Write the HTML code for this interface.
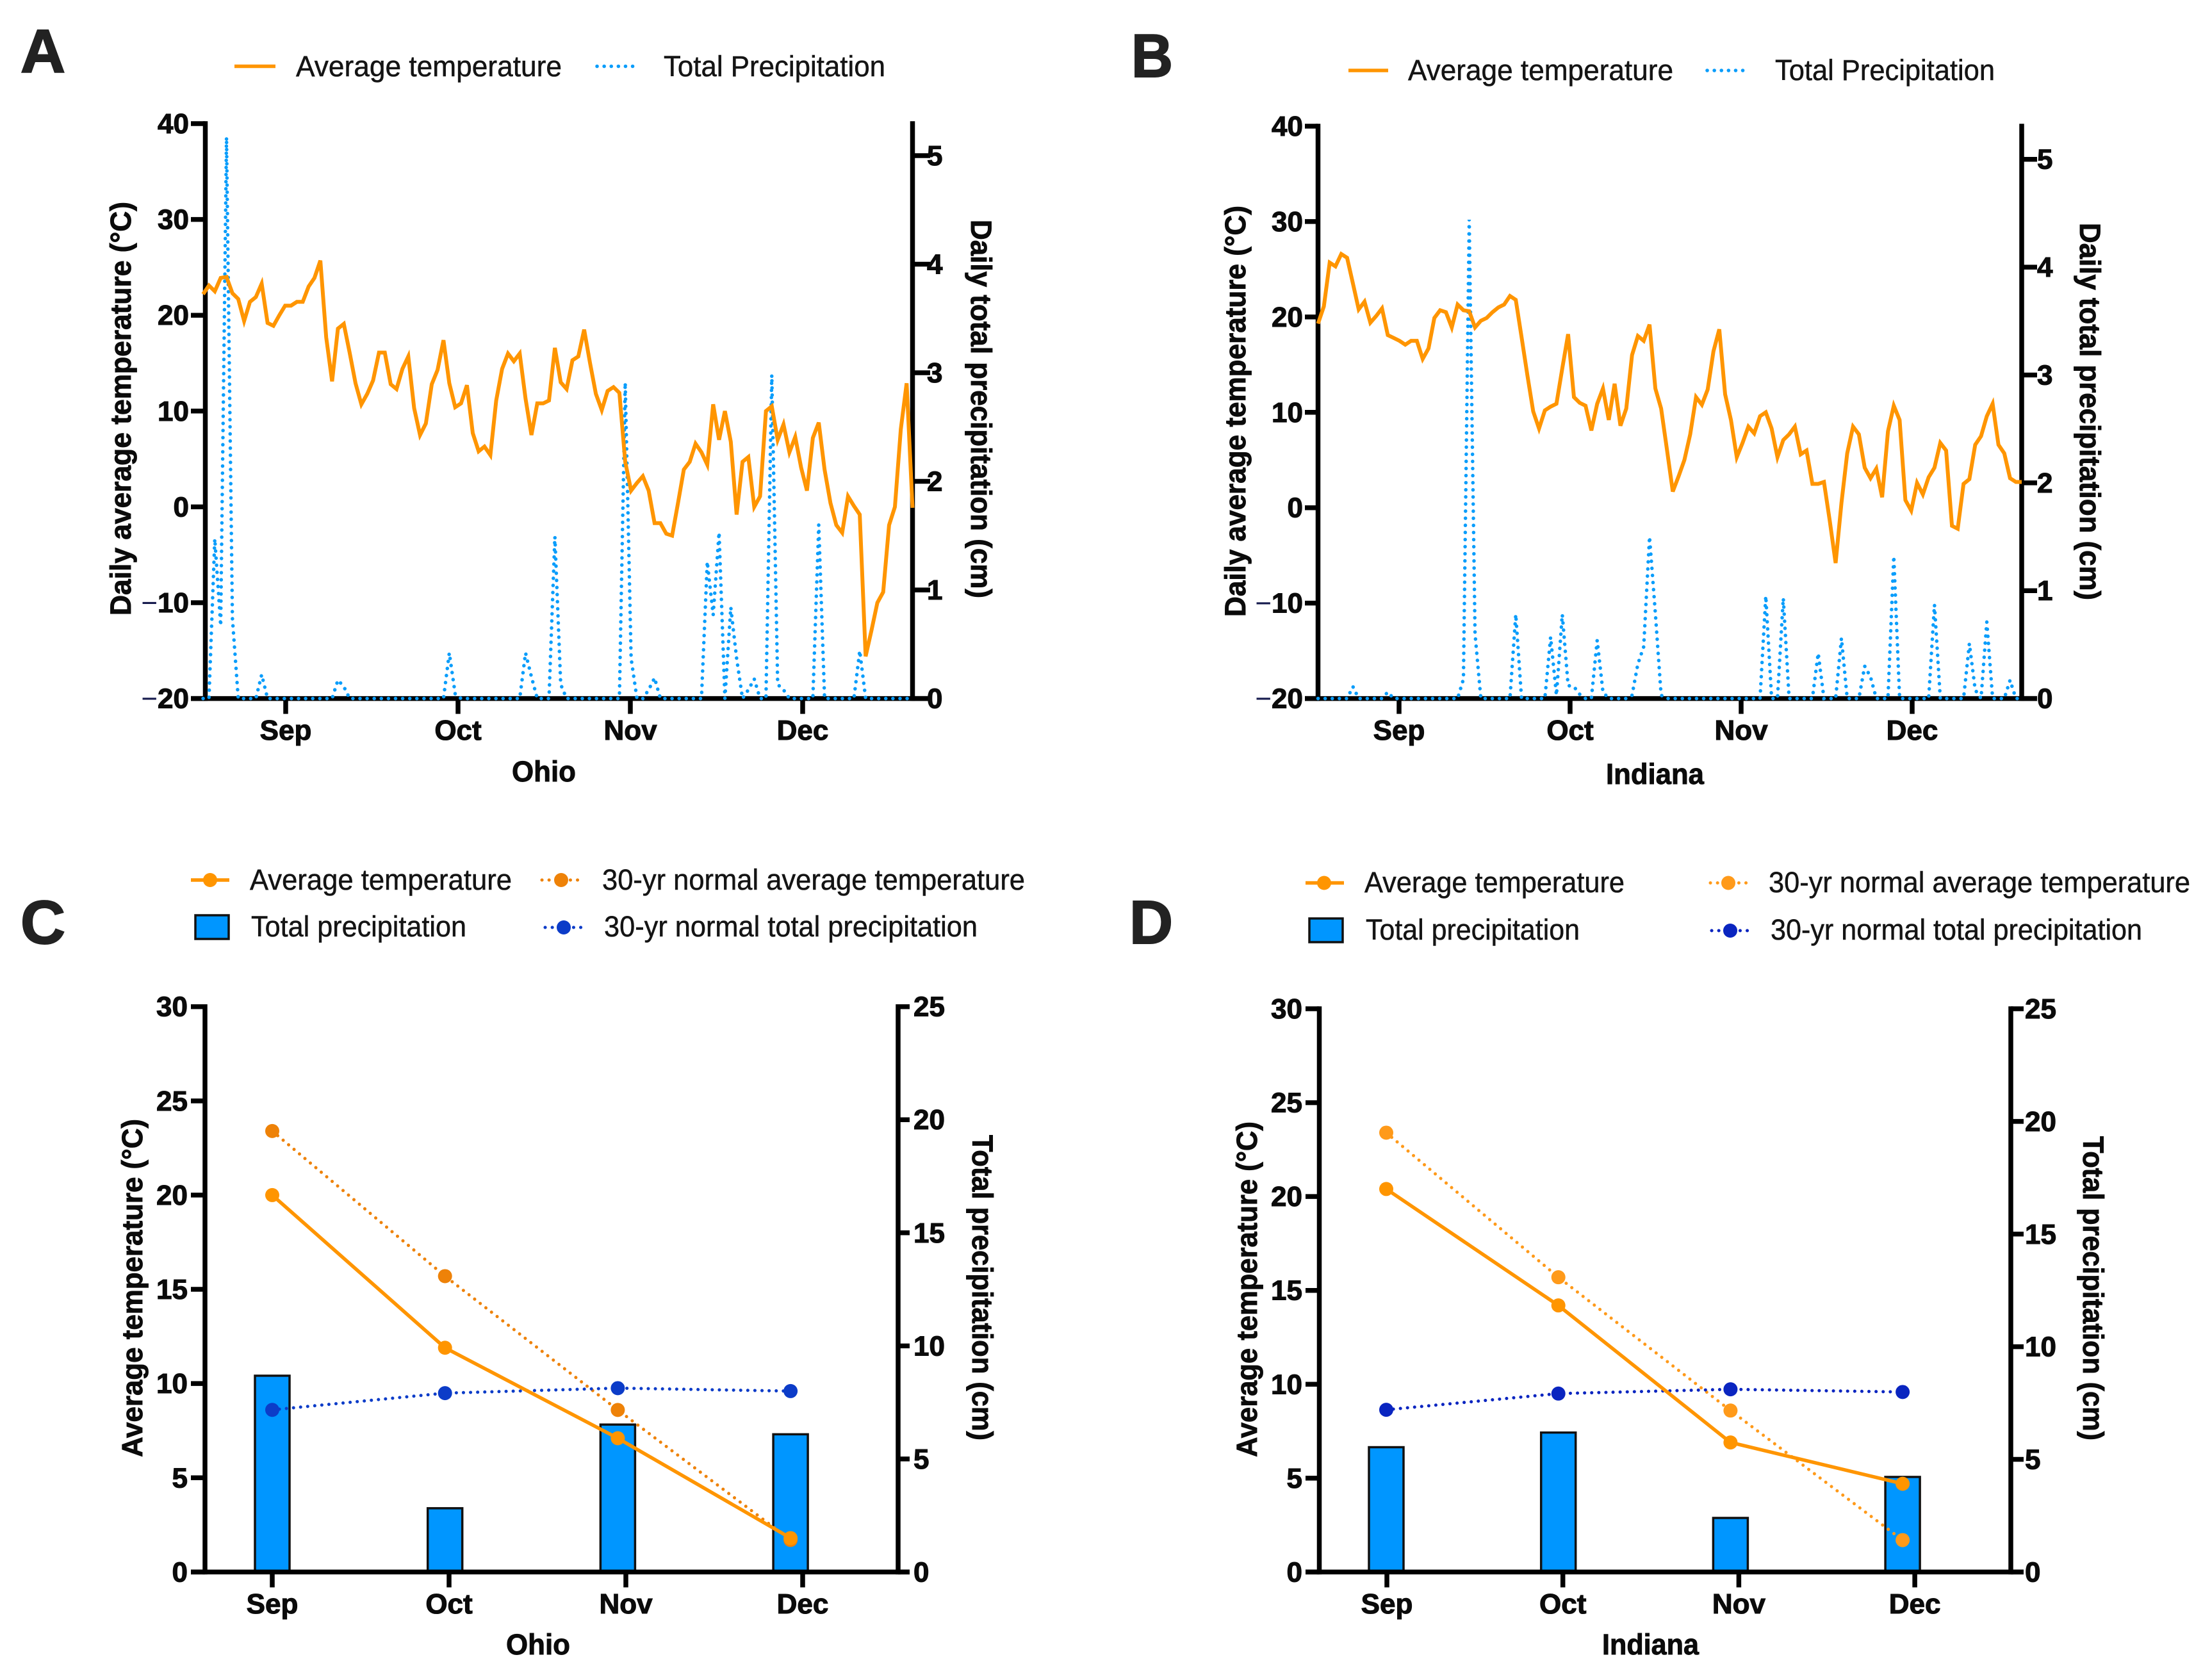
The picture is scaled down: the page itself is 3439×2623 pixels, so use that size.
<!DOCTYPE html>
<html lang="en">
<head>
<meta charset="utf-8">
<title>Daily and monthly temperature and precipitation: Ohio and Indiana</title>
<style>
html,body{margin:0;padding:0;background:#fff;}
svg{display:block;}
text{font-family:"Liberation Sans",Arial,sans-serif;fill:#0b0b0b;}
.letter{font-weight:700;font-size:96px;fill:#222;stroke:#222;stroke-width:2;}
.leg{font-size:45px;fill:#141414;stroke:#141414;stroke-width:0.5;}
.t{font-weight:700;font-size:45px;stroke:#0b0b0b;stroke-width:0.9;}
.tick{font-weight:700;font-size:44px;stroke:#0b0b0b;stroke-width:1.1;}
.minus{font-weight:400;fill:#151a4d;stroke:none;}
</style>
</head>
<body>
<svg id="figure" xmlns="http://www.w3.org/2000/svg" width="3439" height="2623" viewBox="0 0 3439 2623">
<rect x="0" y="0" width="3439" height="2623" fill="#fff"/>

<g id="panelA"></g>
<g id="panelB"></g>
<g id="panelC"></g>
<g id="panelD"></g>

<!-- Panel letters -->
<text class="letter" x="32" y="113" textLength="70" lengthAdjust="spacingAndGlyphs">A</text>
<text class="letter" x="1766" y="120" textLength="65" lengthAdjust="spacingAndGlyphs">B</text>
<text class="letter" x="32" y="1473" textLength="70" lengthAdjust="spacingAndGlyphs">C</text>
<text class="letter" x="1763" y="1473" textLength="68" lengthAdjust="spacingAndGlyphs">D</text>

<!-- Legend A -->
<g>
  <line x1="366" y1="103.5" x2="430" y2="103.5" stroke="#ff9500" stroke-width="5.5"/>
  <text class="leg" x="462" y="119" textLength="415" lengthAdjust="spacingAndGlyphs">Average temperature</text>
  <line x1="932" y1="103.5" x2="990" y2="103.5" stroke="#0a9dfb" stroke-width="5.5" stroke-linecap="round" stroke-dasharray="0.1 11"/>
  <text class="leg" x="1036" y="119" textLength="346" lengthAdjust="spacingAndGlyphs">Total Precipitation</text>
</g>

<!-- Legend B -->
<g>
  <line x1="2105" y1="110" x2="2167" y2="110" stroke="#ff9500" stroke-width="5.5"/>
  <text class="leg" x="2198" y="125" textLength="414" lengthAdjust="spacingAndGlyphs">Average temperature</text>
  <line x1="2665" y1="110" x2="2725" y2="110" stroke="#0a9dfb" stroke-width="5.5" stroke-linecap="round" stroke-dasharray="0.1 11"/>
  <text class="leg" x="2771" y="125" textLength="343" lengthAdjust="spacingAndGlyphs">Total Precipitation</text>
</g>

<!-- Legend C -->
<g>
  <line x1="298" y1="1374" x2="358" y2="1374" stroke="#ff9500" stroke-width="5.5"/>
  <circle cx="328" cy="1374" r="11" fill="#ff9500"/>
  <text class="leg" x="390" y="1389" textLength="409" lengthAdjust="spacingAndGlyphs">Average temperature</text>
  <line x1="846" y1="1374" x2="905" y2="1374" stroke="#ee8208" stroke-width="5" stroke-linecap="round" stroke-dasharray="0.1 11"/>
  <circle cx="876" cy="1374" r="11" fill="#ee8208"/>
  <text class="leg" x="940" y="1389" textLength="660" lengthAdjust="spacingAndGlyphs">30-yr normal average temperature</text>
  <rect x="305" y="1429" width="52" height="37" fill="#0096ff" stroke="#111" stroke-width="3.5"/>
  <text class="leg" x="392" y="1462" textLength="336" lengthAdjust="spacingAndGlyphs">Total precipitation</text>
  <line x1="851" y1="1448" x2="908" y2="1448" stroke="#0c3cc8" stroke-width="5" stroke-linecap="round" stroke-dasharray="0.1 11"/>
  <circle cx="880" cy="1448" r="11" fill="#0c3cc8"/>
  <text class="leg" x="943" y="1462" textLength="583" lengthAdjust="spacingAndGlyphs">30-yr normal total precipitation</text>
</g>

<!-- Legend D -->
<g>
  <line x1="2038" y1="1378.5" x2="2098" y2="1378.5" stroke="#ff9500" stroke-width="5.5"/>
  <circle cx="2067" cy="1378.5" r="11" fill="#ff9500"/>
  <text class="leg" x="2130" y="1393" textLength="406" lengthAdjust="spacingAndGlyphs">Average temperature</text>
  <line x1="2670" y1="1378.5" x2="2728" y2="1378.5" stroke="#ff9a1a" stroke-width="5" stroke-linecap="round" stroke-dasharray="0.1 11"/>
  <circle cx="2698" cy="1378.5" r="11" fill="#ff9a1a"/>
  <text class="leg" x="2761" y="1393" textLength="658" lengthAdjust="spacingAndGlyphs">30-yr normal average temperature</text>
  <rect x="2044" y="1434" width="52" height="37" fill="#0096ff" stroke="#111" stroke-width="3.5"/>
  <text class="leg" x="2132" y="1467" textLength="334" lengthAdjust="spacingAndGlyphs">Total precipitation</text>
  <line x1="2672" y1="1453" x2="2731" y2="1453" stroke="#0a25c0" stroke-width="5" stroke-linecap="round" stroke-dasharray="0.1 11"/>
  <circle cx="2701" cy="1453" r="11" fill="#0a25c0"/>
  <text class="leg" x="2764" y="1467" textLength="580" lengthAdjust="spacingAndGlyphs">30-yr normal total precipitation</text>
</g>

<!-- Axis titles -->
<text class="t" transform="translate(204,961) rotate(-90)" textLength="646" lengthAdjust="spacingAndGlyphs">Daily average temperature (°C)</text>
<text class="t" transform="translate(1516,343) rotate(90)" textLength="591" lengthAdjust="spacingAndGlyphs">Daily total precipitation (cm)</text>
<text class="t" x="799" y="1220" textLength="100" lengthAdjust="spacingAndGlyphs">Ohio</text>

<text class="t" transform="translate(1944,963) rotate(-90)" textLength="642" lengthAdjust="spacingAndGlyphs">Daily average temperature (°C)</text>
<text class="t" transform="translate(3247,348) rotate(90)" textLength="589" lengthAdjust="spacingAndGlyphs">Daily total precipitation (cm)</text>
<text class="t" x="2507" y="1224" textLength="153" lengthAdjust="spacingAndGlyphs">Indiana</text>

<text class="t" transform="translate(222,2275) rotate(-90)" textLength="528" lengthAdjust="spacingAndGlyphs">Average temperature (°C)</text>
<text class="t" transform="translate(1518,1772) rotate(90)" textLength="477" lengthAdjust="spacingAndGlyphs">Total precipitation (cm)</text>
<text class="t" x="790" y="2583" textLength="100" lengthAdjust="spacingAndGlyphs">Ohio</text>

<text class="t" transform="translate(1962,2275) rotate(-90)" textLength="524" lengthAdjust="spacingAndGlyphs">Average temperature (°C)</text>
<text class="t" transform="translate(3252,1774) rotate(90)" textLength="475" lengthAdjust="spacingAndGlyphs">Total precipitation (cm)</text>
<text class="t" x="2501" y="2583" textLength="151" lengthAdjust="spacingAndGlyphs">Indiana</text>
</svg>

<script>
const monthLabels = ["Sep", "Oct", "Nov", "Dec"];
const dailyTempTicks = [-20, -10, 0, 10, 20, 30, 40];
const dailyPrecipTicks = [0, 1, 2, 3, 4, 5];
const monthlyTempTicks = [0, 5, 10, 15, 20, 25, 30];
const monthlyPrecipTicks = [0, 5, 10, 15, 20, 25];

const ohioDailyTemp = [
22.2,23.1,22.5,23.9,24.0,22.3,21.7,19.4,21.4,21.9,
23.3,19.2,18.9,20,21.0,21,21.4,21.4,23,23.9,
25.7,17.7,13.1,18.6,19.1,16.1,12.9,10.7,11.8,13.2,
16.1,16.1,12.8,12.3,14.4,15.7,10.3,7.5,8.7,12.8,
14.3,17.4,12.9,10.4,10.8,12.7,7.7,5.8,6.3,5.4,11.1,
14.4,16.0,15.2,16.0,11.3,7.5,10.8,10.8,11.1,16.6,
13.0,12.3,15.3,15.7,18.5,15.0,11.8,10.1,12.1,12.5,
11.9,4.7,1.7,2.5,3.2,1.7,-1.7,-1.7,-2.8,-3.0,
0.4,3.9,4.7,6.6,5.7,4.4,10.7,7.0,10.0,6.8,
-0.8,4.7,5.2,0.0,1.1,10.0,10.5,7.0,8.6,5.7,
7.3,4.1,1.7,7.2,8.8,3.9,0.4,-1.9,-2.7,1.1,
0.1,-0.8,-15.6,-12.9,-10,-8.9,-1.9,0,8.1,12.9,
-0.1];

const ohioDailyPrecip = [
0,0,1.47,0.67,5.17,0.74,0,0,0,0,
0.22,0,0,0,0,0,0,0,0,0,
0,0,0,0.17,0.11,0,0,0,0,0,
0,0,0,0,0,0,0,0,0,0,
0,0,0.42,0.04,0,0,0,0,0,0,
0,0,0,0,0,0.42,0.2,0,0,0,
1.49,0.13,0,0,0,0,0,0,0,0,
0,0,2.91,0.37,0,0,0.08,0.19,0,0,
0,0,0,0,0,0,1.26,0.77,1.53,0,
0.84,0.37,0,0.08,0.18,0,0,2.98,0.13,0.08,
0,0,0,0,0,1.6,0,0,0,0,
0,0,0.44,0,0,0,0,0,0,0,
0,0];

const indianaDailyTemp = [
19.3,21.1,25.7,25.3,26.6,26.2,23.5,20.8,21.6,19.4,
20.1,20.9,18.1,17.8,17.5,17.1,17.5,17.5,15.6,16.7,
19.9,20.7,20.5,18.9,21.3,20.7,20.6,18.9,19.6,19.9,
20.5,21,21.3,22.2,21.8,17.9,13.9,10.1,8.3,10.2,
10.6,10.9,14.6,18.2,11.6,11.0,10.7,8.1,10.9,12.5,
9.2,13,8.6,10.4,
16.0,18.0,17.5,19.2,12.5,10.4,6.1,1.7,3.3,5.0,
7.7,11.6,10.8,12.4,16.4,18.7,11.9,9.2,5.3,6.8,
8.5,7.8,9.6,10.0,8.3,5.3,7.1,7.7,8.5,5.6,
6.0,2.5,2.5,2.7,-1.4,-5.8,0.5,5.7,8.5,7.7,
4.2,3.1,4.1,1.1,8.0,10.7,9.2,0.8,-0.3,2.6,
1.4,3.2,4.2,6.8,6.0,-1.9,-2.2,2.5,3.0,6.6,
7.5,9.6,10.9,6.6,5.7,3.1,2.7,2.7];

const indianaDailyPrecip = [
0,0,0,0,0,0,0.11,0,0,0,
0,0,0.06,0,0,0,0,0,0,0,
0,0,0,0,0,0.18,4.44,0.6,0,0,
0,0,0,0,0.78,0,0,0,0,0,
0.57,0.03,0.78,0.12,0.11,0.04,0,0,0.54,0.06,
0,0,0,0,0.03,0.32,0.48,1.5,0.79,0.03,
0,0,0,0,0,0,0,0,0,0,
0,0,0,0,0,0,0,0.95,0,0,
0.93,0,0,0,0,0,0.42,0,0,0,
0.56,0,0,0,0.3,0.2,0,0,0,1.32,
0,0,0,0,0,0,0.87,0,0,0,
0,0,0.51,0.08,0,0.71,0,0,0,0.17,
0,0];

const ohioMonthlyTemp = [20.0, 11.9, 7.1, 1.8];
const ohioNormalTemp = [23.4, 15.7, 8.6, 1.7];
const ohioMonthlyPrecip = [8.68, 2.82, 6.52, 6.09];
const ohioNormalPrecip = [7.17, 7.91, 8.13, 8.0];

const indianaMonthlyTemp = [20.4, 14.2, 6.9, 4.7];
const indianaNormalTemp = [23.4, 15.7, 8.6, 1.7];
const indianaMonthlyPrecip = [5.54, 6.19, 2.4, 4.22];
const indianaNormalPrecip = [7.2, 7.92, 8.11, 7.99];

const NS = "http://www.w3.org/2000/svg";

function make(parent, tag, name, attrs) {
  const el = document.createElementNS(NS, tag);
  
  
  for (const k in attrs) el.setAttribute(k, attrs[k]);
  parent.appendChild(el);
  return el;
}
function label(parent, name, value, x, y, anchor) {
  const el = make(parent, 'text', name, {x: x, y: y, 'text-anchor': anchor, 'class': 'tick'});
  if (typeof value === 'number' && value < 0) {
    const minus = make(el, 'tspan', name + '-minus', {'class': 'minus'});
    minus.textContent = "\u2212";
    const digits = make(el, 'tspan', name + '-digits', {});
    digits.textContent = String(Math.abs(value));
  } else {
    el.textContent = String(value);
  }
  return el;
}
function linear(d0, d1, r0, r1) {
  return function (v) { return r0 + (v - d0) * (r1 - r0) / (d1 - d0); };
}

function drawAxes(g, p, leftTicks, rightTicks, yL, yR) {
  const ax = {stroke: '#000', 'stroke-width': 7.5};
  make(g, 'line', 'x-axis-line', Object.assign({x1: p.tickL, y1: p.y0, x2: p.tickR, y2: p.y0}, ax));
  make(g, 'line', 'y-axis-left-line', Object.assign({x1: p.xL, y1: p.top - 3.75, x2: p.xL, y2: p.y0 + 3.75}, ax));
  make(g, 'line', 'y-axis-right-line', Object.assign({x1: p.xR, y1: p.top - 3.75, x2: p.xR, y2: p.y0 + 3.75}, ax));
  leftTicks.forEach(function (t) {
    const y = yL(t);
    make(g, 'line', 'y-left-tick-' + t, Object.assign({x1: p.tickL, y1: y, x2: p.xL, y2: y}, ax));
    label(g, 'y-left-tick-label-' + t, t, p.labelL, y + 15, 'end');
  });
  rightTicks.forEach(function (t) {
    const y = yR(t);
    make(g, 'line', 'y-right-tick-' + t, Object.assign({x1: p.xR, y1: y, x2: p.tickR, y2: y}, ax));
    label(g, 'y-right-tick-label-' + t, t, p.labelR, y + 15, 'start');
  });
  monthLabels.forEach(function (m, i) {
    const x = p.monthX0 + i * p.monthStep;
    make(g, 'line', 'x-tick-' + m, Object.assign({x1: x, y1: p.y0, x2: x, y2: p.y0 + 24}, ax));
    label(g, 'x-tick-label-' + m, m, x, p.monthBase, 'middle');
  });
}

function polyPoints(values, xf, yf) {
  return values.map(function (v, i) { return xf(i).toFixed(1) + ',' + yf(v).toFixed(1); }).join(' ');
}

function dailyPanel(id, p, temps, precs) {
  const g = document.getElementById(id);
  const yT = linear(-20, 40, p.y0, p.top);
  const yP = linear(0, 5, p.y0, p.y5);
  const n = temps.length;
  const xf = linear(0, n - 1, p.x0, p.x1);
  drawAxes(g, p, dailyTempTicks, dailyPrecipTicks, yT, yP);
  make(g, 'polyline', 'daily-precipitation-line', {
    points: polyPoints(precs, xf, yP), fill: 'none', stroke: '#0a9dfb',
    'stroke-width': 5.5, 'stroke-linecap': 'round', 'stroke-dasharray': '0.1 11'
  });
  make(g, 'polyline', 'daily-temperature-line', {
    points: polyPoints(temps, xf, yT), fill: 'none', stroke: '#ff9500',
    'stroke-width': 6, 'stroke-linejoin': 'miter'
  });
}

function monthlyPanel(id, p, temp, normTemp, prec, normPrec, normColor, blue) {
  const g = document.getElementById(id);
  const yT = linear(0, 30, p.y0, p.top);
  const yP = linear(0, 25, p.y0, p.top);
  const xf = function (i) { return p.markX0 + i * p.markStep; };
  prec.forEach(function (v, i) {
    make(g, 'rect', 'precipitation-bar-' + monthLabels[i], {
      x: xf(i) - 27, y: yP(v), width: 54, height: p.y0 - yP(v),
      fill: '#0096ff', stroke: '#111', 'stroke-width': 3.5
    });
  });
  drawAxes(g, p, monthlyTempTicks, monthlyPrecipTicks, yT, yP);
  make(g, 'polyline', 'normal-temperature-line', {
    points: polyPoints(normTemp, xf, yT), fill: 'none', stroke: normColor,
    'stroke-width': 5, 'stroke-linecap': 'round', 'stroke-dasharray': '0.1 11'
  });
  make(g, 'polyline', 'normal-precipitation-line', {
    points: polyPoints(normPrec, xf, yP), fill: 'none', stroke: blue,
    'stroke-width': 5, 'stroke-linecap': 'round', 'stroke-dasharray': '0.1 11'
  });
  make(g, 'polyline', 'average-temperature-line', {
    points: polyPoints(temp, xf, yT), fill: 'none', stroke: '#ff9500', 'stroke-width': 5.5
  });
  normTemp.forEach(function (v, i) {
    make(g, 'circle', 'normal-temperature-point-' + monthLabels[i], {cx: xf(i), cy: yT(v), r: 11, fill: normColor});
  });
  normPrec.forEach(function (v, i) {
    make(g, 'circle', 'normal-precipitation-point-' + monthLabels[i], {cx: xf(i), cy: yP(v), r: 11, fill: blue});
  });
  temp.forEach(function (v, i) {
    make(g, 'circle', 'average-temperature-point-' + monthLabels[i], {cx: xf(i), cy: yT(v), r: 11, fill: '#ff9500'});
  });
}

dailyPanel('panelA', {
  xL: 320.5, xR: 1424.5, top: 193, y0: 1090.6, y5: 243, x0: 317, x1: 1424.5,
  tickL: 298, tickR: 1452, labelL: 295, labelR: 1447,
  monthX0: 446, monthStep: 269, monthBase: 1155
}, ohioDailyTemp, ohioDailyPrecip);

dailyPanel('panelB', {
  xL: 2057.5, xR: 3156, top: 197, y0: 1090.6, y5: 248.7, x0: 2057.5, x1: 3156,
  tickL: 2037, tickR: 3180, labelL: 2034, labelR: 3180,
  monthX0: 2184, monthStep: 267, monthBase: 1155
}, indianaDailyTemp, indianaDailyPrecip);

monthlyPanel('panelC', {
  xL: 320, xR: 1402, top: 1571.7, y0: 2454.4,
  tickL: 298, tickR: 1420, labelL: 293, labelR: 1426,
  monthX0: 425, monthStep: 276, monthBase: 2519,
  markX0: 425, markStep: 269.7
}, ohioMonthlyTemp, ohioNormalTemp, ohioMonthlyPrecip, ohioNormalPrecip, '#ee8208', '#0c3cc8');

monthlyPanel('panelD', {
  xL: 2059.5, xR: 3139, top: 1575, y0: 2454.4,
  tickL: 2038, tickR: 3159, labelL: 2033, labelR: 3161,
  monthX0: 2165, monthStep: 274.7, monthBase: 2519,
  markX0: 2164, markStep: 268.7
}, indianaMonthlyTemp, indianaNormalTemp, indianaMonthlyPrecip, indianaNormalPrecip, '#ff9a1a', '#0a25c0');
</script>
</body>
</html>
